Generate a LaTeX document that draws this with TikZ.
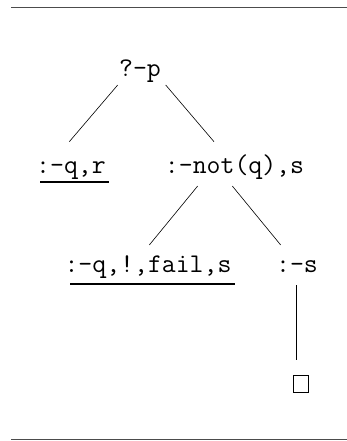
\documentclass[tikz,border=0pt]{standalone}
\usepackage{fontspec}
\begin{document}
\begin{tikzpicture}[x=1pt,y=-1pt,
  lbl/.style={font=\ttfamily\fontsize{27}{32}\selectfont, inner sep=0pt, anchor=base},
  edge/.style={line width=0.6pt},
  rule/.style={line width=1.4pt, draw=black!70},
  ul/.style={line width=2pt},
  leaf/.style={draw, line width=1pt, minimum width=15pt, minimum height=17pt, inner sep=0pt}]
\useasboundingbox (0,0) rectangle (347,441);
% rules
\coordinate (t1) at (11,7.3); \coordinate (t2) at (347,7.3);
\coordinate (b1) at (11,439.5); \coordinate (b2) at (347,439.5);
\draw[rule] (t1) -- (t2);
\draw[rule] (b1) -- (b2);
% nodes
\node[lbl] (root) at (140,77) {?-p};
\node[lbl] (a) at (71,173) {:-q,r};
\node[lbl] (b) at (234.5,173) {:-not(q),s};
\node[lbl] (c) at (148,272) {:-q,!,fail,s};
\node[lbl] (d) at (297,272) {:-s};
\node[leaf] (e) at (301,384) {};
% connector ends
\coordinate (rL) at (117.7,85); \coordinate (aT) at (69.3,141.7);
\coordinate (rR) at (165.7,85); \coordinate (bT) at (214,141.7);
\coordinate (bL) at (197.7,186); \coordinate (cT) at (149.3,245);
\coordinate (bR) at (232.3,186); \coordinate (dT) at (280.7,245);
\coordinate (dB) at (296.7,285); \coordinate (eT) at (296.7,360);
\draw[edge] (rL) -- (aT);
\draw[edge] (rR) -- (bT);
\draw[edge] (bL) -- (cT);
\draw[edge] (bR) -- (dT);
\draw[line width=1pt] (dB) -- (eT);
% underlines
\coordinate (ua1) at (40,182); \coordinate (ua2) at (109,182);
\coordinate (uc1) at (70,284); \coordinate (uc2) at (235,284);
\draw[ul] (ua1) -- (ua2);
\draw[ul] (uc1) -- (uc2);
\end{tikzpicture}
\end{document}
